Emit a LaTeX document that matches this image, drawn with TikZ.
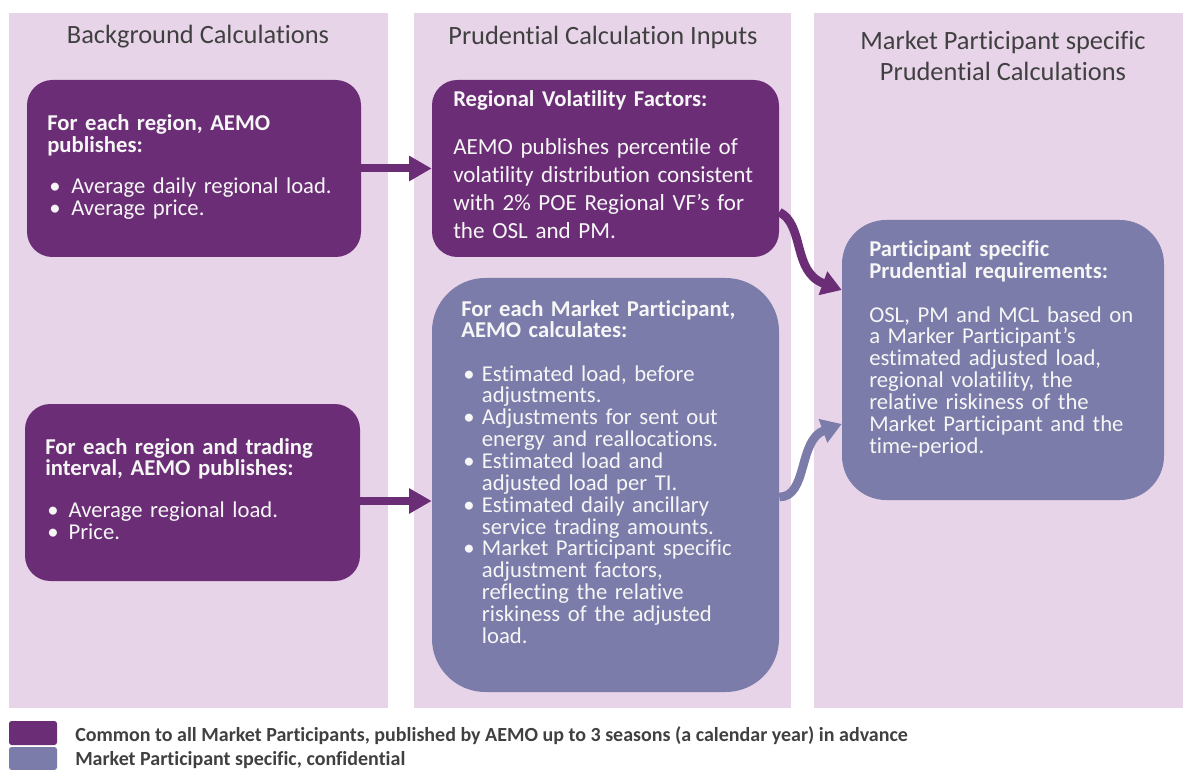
\documentclass[tikz,border=0pt]{standalone}
\usepackage{fontspec}
\setmainfont{Carlito}[Ligatures={NoCommon,NoContextual},RawFeature={-liga;-clig;-calt;-dlig}]
\usetikzlibrary{arrows.meta,fit,calc}
\definecolor{dk}{RGB}{107,45,118}
\definecolor{lt}{RGB}{123,124,170}
\definecolor{pn}{RGB}{232,212,232}
\definecolor{hd}{RGB}{64,64,64}
\definecolor{tx}{RGB}{246,246,246}
\newcommand\blt[1]{\hspace*{1.5pt}\makebox[#1][l]{•}}
\begin{document}
\begin{tikzpicture}[x=0.75pt,y=-0.75pt,
 panel/.style={fill=pn,draw=none},
 dkbox/.style={fill=dk,draw=none,inner sep=0pt},
 ltbox/.style={fill=lt,draw=none,inner sep=0pt},
 hdr/.style={text=hd,font=\fontsize{19.8}{23.5}\selectfont,align=center,inner sep=0pt},
 body/.style={text=tx,anchor=base west,inner sep=0pt,text width=#1,align=left,font=\fontsize{17}{16.4}\selectfont},
 bigbody/.style={text=tx,anchor=base west,inner sep=0pt,text width=#1,align=left,font=\fontsize{17.3}{21}\selectfont},
 arr/.style={line width=6pt,-{Triangle[length=17pt,width=18pt]}},
 carr/.style={line width=6.5pt,-{Triangle[length=15pt,width=18pt]}},
 legtext/.style={text=hd,anchor=base west,inner sep=0pt,font=\bfseries\fontsize{15}{18}\selectfont},
]
\useasboundingbox (0,0) rectangle (1183,770);
% panels
\fill[panel] (9,13) rectangle (388,708);
\fill[panel] (414,13) rectangle (791,708);
\fill[panel] (814,13) rectangle (1183,708);
% headers
\node[hdr] (h1) at (198,37) {Background Calculations};
\node[hdr] (h2) at (603,37) {Prudential Calculation Inputs};
\node[hdr] (h3) at (1003,56) {Market Participant specific\\Prudential Calculations};
% boxes
\node[dkbox,fit={(27,80)(361,257)},rounded corners=19pt] (A) {};
\node[dkbox,fit={(25,404)(360,581)},rounded corners=19pt] (B) {};
\node[dkbox,fit={(432,80)(779,257)},rounded corners=19pt] (C) {};
\node[ltbox,fit={(432,278)(779,692)},rounded corners=40pt] (D) {};
\node[ltbox,fit={(842,220)(1164,500)},rounded corners=33pt] (E) {};
% box texts
\node[body=240pt] (At) at (47,131) {\textbf{For each region, AEMO}\\\textbf{publishes:}\\[14pt]
 \blt{16.5pt}Average daily regional load.\\
 \blt{16.5pt}Average price.};
\node[body=250pt] (Bt) at (45,454) {\textbf{For each region and trading}\\\textbf{interval, AEMO publishes:}\\[15pt]
 \blt{16pt}Average regional load.\\
 \blt{16pt}Price.};
\node[body=250pt] (Ct) at (453,107) {\textbf{Regional Volatility Factors:}};
\node[bigbody=250pt] (Cb) at (453,155) {AEMO publishes percentile of\\
 volatility distribution consistent\\
 with 2\% POE Regional VF’s for\\
 the OSL and PM.};
\node[body=250pt] (Dt) at (461,316) {\textbf{For each Market Participant,}\\\textbf{AEMO calculates:}\\[16pt]
 \blt{14pt}Estimated load, before\\
 \hspace*{15.5pt}adjustments.\\
 \blt{14pt}Adjustments for sent out\\
 \hspace*{15.5pt}energy and reallocations.\\
 \blt{14pt}Estimated load and\\
 \hspace*{15.5pt}adjusted load per TI.\\
 \blt{14pt}Estimated daily ancillary\\
 \hspace*{15.5pt}service trading amounts.\\
 \blt{14pt}Market Participant specific\\
 \hspace*{15.5pt}adjustment factors,\\
 \hspace*{15.5pt}reflecting the relative\\
 \hspace*{15.5pt}riskiness of the adjusted\\
 \hspace*{15.5pt}load.};
\node[body=235pt] (Et) at (869,257) {\textbf{Participant specific}\\\textbf{Prudential requirements:}\\[16pt]
 OSL, PM and MCL based on\\
 a Marker Participant’s\\
 estimated adjusted load,\\
 regional volatility, the\\
 relative riskiness of the\\
 Market Participant and the\\
 time-period.};
% connectors
\draw[arr,dk] (A) -- (C);
\coordinate (bd) at (0,501);
\draw[arr,dk] (B.east |- bd) -- (D.west |- bd);
\coordinate (c1) at (0,212);
\coordinate (ce) at (0,290);
\draw[carr,dk] (C.east |- c1) .. controls (805,225) and (792,272) .. (E.west |- ce);
\coordinate (d1) at (0,497);
\coordinate (de) at (0,424);
\draw[carr,lt] (D.east |- d1) .. controls (808,497) and (798,440) .. (E.west |- de);
% legend
\node[fill=dk,rounded corners=2pt,inner sep=0pt,fit={(9,721)(57,745)}] (L1) {};
\node[fill=lt,rounded corners=2pt,inner sep=0pt,fit={(9,747)(57,770)}] (L2) {};
\node[legtext] (L1t) at (75,741) {Common to all Market Participants, published by AEMO up to 3 seasons (a calendar year) in advance};
\node[legtext] (L2t) at (75,765) {Market Participant specific, confidential};
\end{tikzpicture}
\end{document}
